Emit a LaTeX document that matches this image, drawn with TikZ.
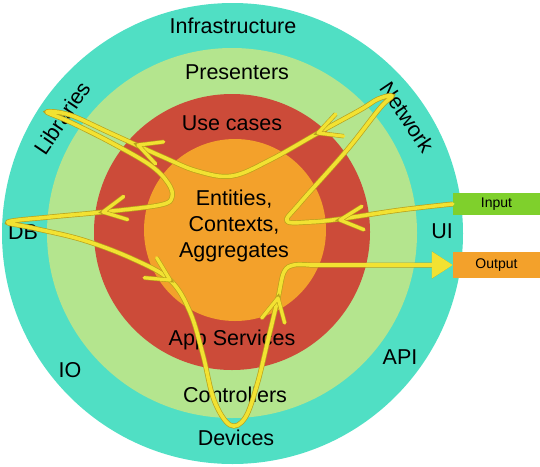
\documentclass[tikz,border=0pt]{standalone}
\usepackage{fontspec}
\setmainfont{Liberation Sans}
\usetikzlibrary{arrows.meta}

\definecolor{infraTeal}{HTML}{50DFC4}
\definecolor{presGreen}{HTML}{B4E58E}
\definecolor{caseRed}{HTML}{CC4B39}
\definecolor{coreOrange}{HTML}{F3A12B}
\definecolor{inGreen}{HTML}{7FD02C}
\definecolor{flowYellow}{HTML}{F2E232}
\definecolor{flowEdge}{HTML}{B9A21C}

\tikzset{
    lbl/.style={font=\fontsize{21.5}{26}\selectfont, inner sep=0pt},
    iobox/.style={font=\fontsize{14}{16}\selectfont, minimum width=87pt, inner sep=0pt},
    flow/.style={preaction={draw=flowEdge, line width=5pt}, draw=flowYellow, line width=3.6pt, line cap=round, line join=round},
    chevron/.style={preaction={draw=flowEdge, line width=4.4pt}, draw=flowYellow, line width=3.2pt, line cap=round, line join=round}
}

\newcommand{\drawChevron}[3]{\draw[chevron] (#1,#2) ++(#3+27:26) -- (#1,#2) -- ++(#3-27:26);}

\begin{document}
\begin{tikzpicture}[x=1pt, y=-1pt]
        \useasboundingbox (0,0) rectangle (540,466);

        % rings
        \fill[infraTeal] (232.5,233.5) circle (230.5);
        \fill[presGreen] (232,233) circle (185);
        \fill[caseRed] (232,232) circle (138);
        \fill[coreOrange] (235,230) circle (91);

        % ring labels
        \node[lbl] (infra) at (233,26) {Infrastructure};
        \node[lbl] (present) at (237,72) {Presenters};
        \node[lbl] (usecases) at (232,123) {Use cases};
        \node[lbl, align=center] (core) at (234,226) {Entities,\\Contexts,\\Aggregates};
        \node[lbl, rotate=56] (libs) at (62,118) {Libraries};
        \node[lbl, rotate=-56] (network) at (407,117) {Network};
        \node[lbl] (db) at (23,232) {DB};
        \node[lbl] (ui) at (442,231) {UI};
        \node[lbl] (io) at (70,370) {IO};
        \node[lbl] (api) at (400,357) {API};
        \node[lbl] (appserv) at (232,340) {App Services};
        \node[lbl] (ctrl) at (235,395) {Controllers};
        \node[lbl] (devices) at (236,438) {Devices};

        % in / out
        \node[iobox, fill=inGreen, minimum height=22pt] (input) at (496.5,204) {Input};
        \node[iobox, fill=coreOrange, minimum height=26pt] (output) at (496.5,265) {Output};

        % the flow through the layers
        \draw[flow, -{Triangle[length=21pt, width=26pt]}] plot[smooth, tension=0.6] coordinates {
            (input.west) (400,210) (340,219) (310,222) (287,221) (300,203) (347,150) (380,108) (392,96)
            (378,99) (360,110) (318,133) (270,160) (232,176) (197,171) (163,157) (110,133) (70,115)
            (47,112) (70,122) (110,142) (150,165) (168,183) (172,197) (160,205) (103,212) (50,217)
            (8,222) (33,228) (83,240) (133,259) (170,280) (190,312) (203,355) (214,400) (230,425)
            (245,418) (257,385) (268,340) (278,298) (284,272) (294,265) (310,265)
        } -- (output.west);

        % direction marks
        \drawChevron{340}{220}{-5}
        \drawChevron{318}{133}{-20}
        \drawChevron{138}{145}{20}
        \drawChevron{103}{212}{-10}
        \drawChevron{170}{280}{-148}
        \drawChevron{278}{298}{102}

    \end{tikzpicture}
\end{document}
